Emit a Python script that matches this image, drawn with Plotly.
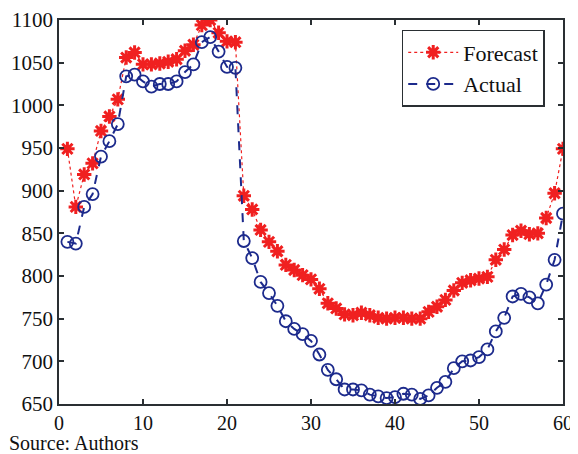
import plotly.graph_objects as go

x_vals = list(range(1, 61))
forecast = [949, 881, 919, 932, 970, 987, 1007, 1056, 1062, 1048,
            1048, 1049, 1051, 1054, 1064, 1071, 1094, 1100, 1085, 1075,
            1074, 894, 878, 854, 840, 829, 813, 807, 801, 796,
            785, 768, 762, 755, 754, 757, 754, 751, 750, 751,
            751, 750, 750, 758, 764, 772, 783, 792, 795, 797,
            799, 819, 831, 848, 853, 849, 850, 868, 897, 949]
actual = [840, 838, 881, 896, 940, 958, 978, 1034, 1036, 1028,
          1022, 1025, 1025, 1028, 1039, 1048, 1074, 1080, 1063, 1045,
          1044, 841, 821, 793, 780, 765, 747, 738, 732, 724,
          708, 690, 679, 667, 667, 666, 661, 659, 657, 658,
          662, 661, 656, 660, 669, 676, 692, 700, 701, 705,
          714, 735, 751, 776, 779, 775, 768, 790, 819, 873]
x_ticks = [0, 10, 20, 30, 40, 50, 60]
y_ticks = [650, 700, 750, 800, 850, 900, 950, 1000, 1050, 1100]

serif = "Liberation Serif, Times New Roman, serif"
red = "#f02020"
blue = "#1c2a8c"

fig = go.Figure()
fig.add_trace(go.Scatter(
    x=x_vals, y=forecast, name="Forecast", mode="lines+markers",
    line=dict(color=red, width=1.2, dash="dot"),
    marker=dict(symbol="asterisk-open", size=12, color=red,
                line=dict(color=red, width=3)),
))
fig.add_trace(go.Scatter(
    x=x_vals, y=actual, name="Actual", mode="lines+markers",
    line=dict(color=blue, width=2, dash="dash"),
    marker=dict(symbol="circle-open", size=12, color=blue,
                line=dict(color=blue, width=1.8)),
))

axis_common = dict(
    showline=True, linecolor="#2a2f33", linewidth=1.5, mirror="ticks",
    ticks="inside", ticklen=5, tickwidth=1.5, tickcolor="#2a2f33",
    showgrid=False, zeroline=False, automargin=False,
)
fig.update_xaxes(range=[0, 60], tickvals=x_ticks,
                 tickfont=dict(family=serif, size=20, color="#111"),
                 **axis_common)
fig.update_yaxes(range=[650, 1100], tickvals=y_ticks,
                 tickfont=dict(family=serif, size=21, color="#111"),
                 **axis_common)

fig.update_layout(
    width=570, height=446,
    margin=dict(l=51, r=15, t=12, b=50),
    plot_bgcolor="white", paper_bgcolor="white",
    showlegend=True,
    legend=dict(x=0.68, y=0.974, xanchor="left", yanchor="top",
                bgcolor="white", bordercolor="#2a2f33", borderwidth=1.5,
                font=dict(family=serif, size=22, color="#111"),
                itemwidth=50, tracegroupgap=0),
)
fig.add_annotation(
    text="Source: Authors", xref="paper", yref="paper",
    x=-0.101, y=-0.1016, xanchor="left", yanchor="middle",
    height=22, borderpad=0,
    showarrow=False, font=dict(family=serif, size=20, color="#111"),
)
fig.write_html("out.html")
